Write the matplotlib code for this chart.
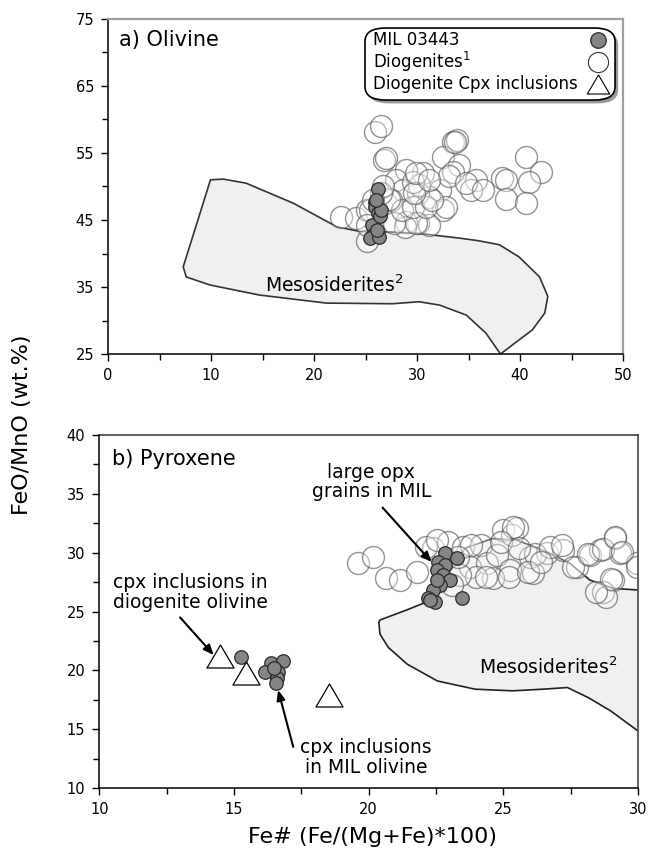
import matplotlib
matplotlib.use("Agg")
import matplotlib.pyplot as plt
from matplotlib.patches import Polygon, FancyBboxPatch
from matplotlib.path import Path
from matplotlib.ticker import MultipleLocator

plt.rcParams['font.family'] = ['DejaVu Sans']

# ---- a) olivine ----
ol_dio_x = [25.9, 26.5, 33.5, 33.9, 32.5, 26.8, 27.0, 40.6, 42.0, 40.9, 38.3, 38.6,
            38.6, 40.6, 35.7, 35.2, 34.1, 33.5, 32.2, 31.2, 30.6, 28.9, 28.0, 28.6,
            30.1, 27.5, 32.5, 32.8, 30.1, 28.9, 31.2, 22.6, 24.1, 25.1, 25.1, 28.8,
            29.9, 27.8, 28.5, 29.6, 30.9, 31.5, 27.3, 26.5, 26.7, 30.2, 29.6, 29.75,
            25.4, 25.7, 25.1, 33.1, 34.8, 36.4, 33.7, 29.9, 31.2]
ol_dio_y = [58.2, 59.0, 56.7, 56.9, 54.4, 54.0, 54.2, 54.4, 52.2, 50.7, 51.2, 51.0,
            48.2, 47.5, 51.0, 49.5, 53.2, 52.2, 49.5, 48.5, 52.0, 52.5, 51.0, 49.5,
            49.0, 48.0, 46.5, 47.0, 44.5, 44.7, 44.3, 45.5, 45.3, 46.5, 41.8, 44.0,
            44.5, 44.5, 46.5, 47.0, 47.0, 48.0, 48.2, 49.0, 50.0, 50.2, 50.7, 49.0,
            46.5, 48.0, 44.3, 51.5, 50.5, 49.5, 56.7, 52.0, 51.0]

ol_mil_x = [26.2, 25.9, 25.9, 26.2, 25.6, 25.7, 25.4, 26.3, 26.4, 26.5, 26.0, 26.1]
ol_mil_y = [49.7, 47.7, 46.9, 46.0, 44.3, 42.8, 42.3, 42.5, 45.6, 46.5, 48.0, 43.5]

ol_meso_x = [9.95, 11.2, 13.4, 18.0, 22.2, 24.4, 27.6, 30.2, 34.1, 36.0, 38.0, 39.9,
             41.9, 42.7, 42.4, 41.2, 38.1, 36.7, 34.8, 32.2, 30.2, 27.6, 21.2, 14.7,
             9.9, 7.6, 7.3]
ol_meso_y = [51.0, 51.1, 50.5, 47.5, 44.0, 43.3, 43.2, 43.0, 42.3, 41.9, 41.3, 39.5,
             36.5, 33.6, 31.1, 28.6, 25.0, 28.1, 30.8, 32.3, 32.8, 32.5, 32.6, 33.8,
             35.3, 36.5, 38.0]

# ---- b) pyroxene ----
px_dio_x = [19.61, 20.17, 20.64, 21.16, 21.78, 22.40, 22.96, 23.51, 24.19, 23.76,
            24.38, 24.75, 25.0, 25.31, 25.49, 25.25, 24.63, 26.11, 25.99, 26.61,
            27.22, 27.72, 28.21, 28.59, 29.14, 29.33, 29.08, 28.71, 28.83, 29.95,
            24.0, 23.39, 23.08, 22.13, 22.55, 23.81, 25.35, 26.19, 26.75, 27.17,
            27.59, 28.15, 28.71, 29.13, 29.41, 29.97, 28.99, 28.43, 24.37, 25.21,
            25.91, 24.9, 25.6, 26.4, 23.3]
px_dio_y = [29.15, 29.61, 27.82, 27.68, 28.39, 30.37, 30.94, 30.51, 30.65, 28.81,
            29.10, 29.80, 31.93, 31.50, 32.07, 28.53, 27.82, 28.25, 29.66, 29.95,
            30.23, 28.81, 29.80, 30.23, 31.22, 29.95, 27.68, 26.69, 26.26, 29.10,
            27.96, 28.11, 27.26, 30.48, 31.05, 30.62, 32.18, 29.91, 30.48, 30.62,
            28.77, 29.91, 30.33, 31.32, 30.05, 28.77, 27.78, 26.64, 27.92, 27.92,
            28.34, 30.9, 30.4, 29.2, 29.6]

px_mil_x = [22.83, 23.27, 22.59, 22.83, 22.52, 22.77, 23.02, 22.65, 22.40, 22.21,
            22.46, 23.45, 22.27, 22.52, 15.26, 16.36, 16.81, 16.15, 16.65, 16.58,
            16.56, 16.5]
px_mil_y = [29.95, 29.52, 29.24, 28.96, 28.53, 28.11, 27.68, 27.26, 26.83, 26.12,
            25.84, 26.12, 25.98, 27.68, 21.1, 20.6, 20.8, 19.84, 19.9, 19.33,
            18.96, 20.2]

px_cpx_x = [14.49, 15.45, 18.53]
px_cpx_y = [21.2, 19.8, 17.9]

px_meso_x = [30.0, 29.08, 28.21, 27.47, 26.6, 25.49, 24.6, 23.6, 22.9, 22.4, 22.03,
             21.41, 20.42, 20.38, 20.42, 20.73, 21.43, 22.55, 23.95, 25.35, 26.47,
             27.38, 28.15, 28.99, 30.0]
px_meso_y = [26.83, 26.97, 27.68, 29.1, 30.09, 31.08, 31.2, 30.4, 28.6, 26.6, 25.7,
             25.13, 24.28, 24.09, 23.09, 21.95, 20.53, 19.1, 18.4, 18.26, 18.4,
             18.54, 17.69, 16.55, 14.85]

legend_labels = ['MIL 03443', r'Diogenites$^{1}$', 'Diogenite Cpx inclusions']

tri = Path([(-1, -0.85), (1, -0.85), (0, 0.85), (-1, -0.85)],
           [Path.MOVETO, Path.LINETO, Path.LINETO, Path.CLOSEPOLY])
dio_face = (1, 1, 1, 0.35)
dio_edge = (0.35, 0.35, 0.35, 0.65)
mil_face = '#858585'
mil_edge = '#2a2a2a'
note_fs = 13.5


def style_axes(ax):
    for s in ['left', 'bottom']:
        ax.spines[s].set_color('black')
        ax.spines[s].set_linewidth(1.1)
    for s in ['top', 'right']:
        ax.spines[s].set_color('#a0a0a0')
        ax.spines[s].set_linewidth(1.6)
    ax.tick_params(which='both', direction='out', top=False, right=False,
                   labelsize=10.5, colors='black', width=1, pad=5)
    ax.tick_params(which='major', length=5)
    ax.tick_params(which='minor', length=4)


fig = plt.figure(figsize=(6.51, 8.51), dpi=100)

# top panel
ax1 = fig.add_axes([0.1659, 0.584, 0.7911, 0.3937])
ax1.add_patch(Polygon(list(zip(ol_meso_x, ol_meso_y)), closed=True,
                      facecolor='#f0f0f0', edgecolor='#333333', lw=1.2, zorder=1))
ax1.scatter(ol_dio_x, ol_dio_y, s=250, facecolors=dio_face, edgecolors=dio_edge,
            linewidths=1, zorder=2)
ax1.scatter(ol_mil_x, ol_mil_y, s=95, facecolors=mil_face, edgecolors=mil_edge,
            linewidths=0.9, zorder=3)
ax1.set_xlim(0, 50)
ax1.set_ylim(25, 75)
ax1.set_xticks([0, 10, 20, 30, 40, 50])
ax1.set_yticks([25, 35, 45, 55, 65, 75])
ax1.xaxis.set_minor_locator(MultipleLocator(5))
ax1.yaxis.set_minor_locator(MultipleLocator(5))
style_axes(ax1)
ax1.text(1.1, 71.9, 'a) Olivine', fontsize=15, va='center', ha='left')
ax1.text(22.0, 35.3, r'Mesosiderites$^{2}$', fontsize=13.5, va='center', ha='center')

# legend box drawn by hand: text left, markers right
lx0, lx1, ly0, ly1 = 0.499, 0.9845, 0.758, 0.973
shadow = FancyBboxPatch((lx0 + 0.006, ly0 - 0.01), lx1 - lx0, ly1 - ly0,
                        boxstyle='round,pad=0,rounding_size=0.04',
                        transform=ax1.transAxes, facecolor='#555555',
                        edgecolor='none', alpha=0.6, zorder=5, clip_on=False)
box = FancyBboxPatch((lx0, ly0), lx1 - lx0, ly1 - ly0,
                     boxstyle='round,pad=0,rounding_size=0.04',
                     transform=ax1.transAxes, facecolor='white',
                     edgecolor='black', lw=1.2, zorder=6, clip_on=False)
ax1.add_patch(shadow)
ax1.add_patch(box)
rows_y = [0.937, 0.872, 0.806]
for lab, yy in zip(legend_labels, rows_y):
    ax1.text(0.515, yy, lab, transform=ax1.transAxes, fontsize=12,
             va='center', ha='left', zorder=7)
ax1.scatter([0.951], [rows_y[0]], s=125, transform=ax1.transAxes,
            facecolors=mil_face, edgecolors=mil_edge, linewidths=0.9, zorder=7)
ax1.scatter([0.951], [rows_y[1]], s=210, transform=ax1.transAxes,
            facecolors='white', edgecolors='#333333', linewidths=0.8, zorder=7)
ax1.scatter([0.951], [rows_y[2]], s=260, marker=tri, transform=ax1.transAxes,
            facecolors='white', edgecolors='black', linewidths=0.8, zorder=7)

# bottom panel
ax2 = fig.add_axes([0.1525, 0.074, 0.8275, 0.4148])
ax2.add_patch(Polygon(list(zip(px_meso_x, px_meso_y)), closed=True,
                      facecolor='#f0f0f0', edgecolor='none', zorder=1))
ax2.plot(px_meso_x, px_meso_y, color='#222222', lw=1.2, zorder=1.5)
ax2.scatter(px_dio_x, px_dio_y, s=250, facecolors=dio_face, edgecolors=dio_edge,
            linewidths=1, zorder=2)
ax2.scatter(px_mil_x, px_mil_y, s=95, facecolors=mil_face, edgecolors=mil_edge,
            linewidths=0.9, zorder=3)
ax2.scatter(px_cpx_x, px_cpx_y, s=380, marker=tri, facecolors='white',
            edgecolors='black', linewidths=0.9, zorder=3)
ax2.set_xlim(10, 30)
ax2.set_ylim(10, 40)
ax2.set_xticks([10, 15, 20, 25, 30])
ax2.set_yticks([10, 15, 20, 25, 30, 35, 40])
ax2.xaxis.set_minor_locator(MultipleLocator(2.5))
ax2.yaxis.set_minor_locator(MultipleLocator(2.5))
style_axes(ax2)
ax2.spines['top'].set_color('#333333')
ax2.spines['top'].set_linewidth(1.1)
ax2.spines['right'].set_color('#555555')
ax2.spines['right'].set_linewidth(1.3)

ax2.text(10.46, 37.94, 'b) Pyroxene', fontsize=15, va='center', ha='left')
ax2.text(26.68, 20.25, r'Mesosiderites$^{2}$', fontsize=13.5, va='center', ha='center')
ax2.text(20.1, 36.0, 'large opx\ngrains in MIL', fontsize=note_fs, ha='center',
         va='center', linespacing=1.05)
ax2.text(10.5, 26.6, 'cpx inclusions in\ndiogenite olivine', fontsize=note_fs,
         ha='left', va='center', linespacing=1.05)
ax2.text(19.9, 12.6, 'cpx inclusions\nin MIL olivine', fontsize=note_fs, ha='center',
         va='center', linespacing=1.05)

arrow = dict(arrowstyle='-|>,head_length=0.6,head_width=0.25', color='black',
             lw=1.5, shrinkA=0, shrinkB=0)
ax2.annotate('', xy=(22.34, 29.2), xytext=(20.52, 33.83), arrowprops=arrow, zorder=4)
ax2.annotate('', xy=(14.25, 21.3), xytext=(13.0, 24.5), arrowprops=arrow, zorder=4)
ax2.annotate('', xy=(16.64, 18.33), xytext=(17.2, 13.5), arrowprops=arrow, zorder=4)

fig.text(22 / 651, 1 - 425 / 851, 'FeO/MnO (wt.%)', rotation=90, fontsize=16,
         ha='center', va='center')
fig.text(373 / 651, 1 - 837 / 851, 'Fe# (Fe/(Mg+Fe)*100)', fontsize=16,
         ha='center', va='center')

fig.savefig('out.png', dpi=100, facecolor='white')
